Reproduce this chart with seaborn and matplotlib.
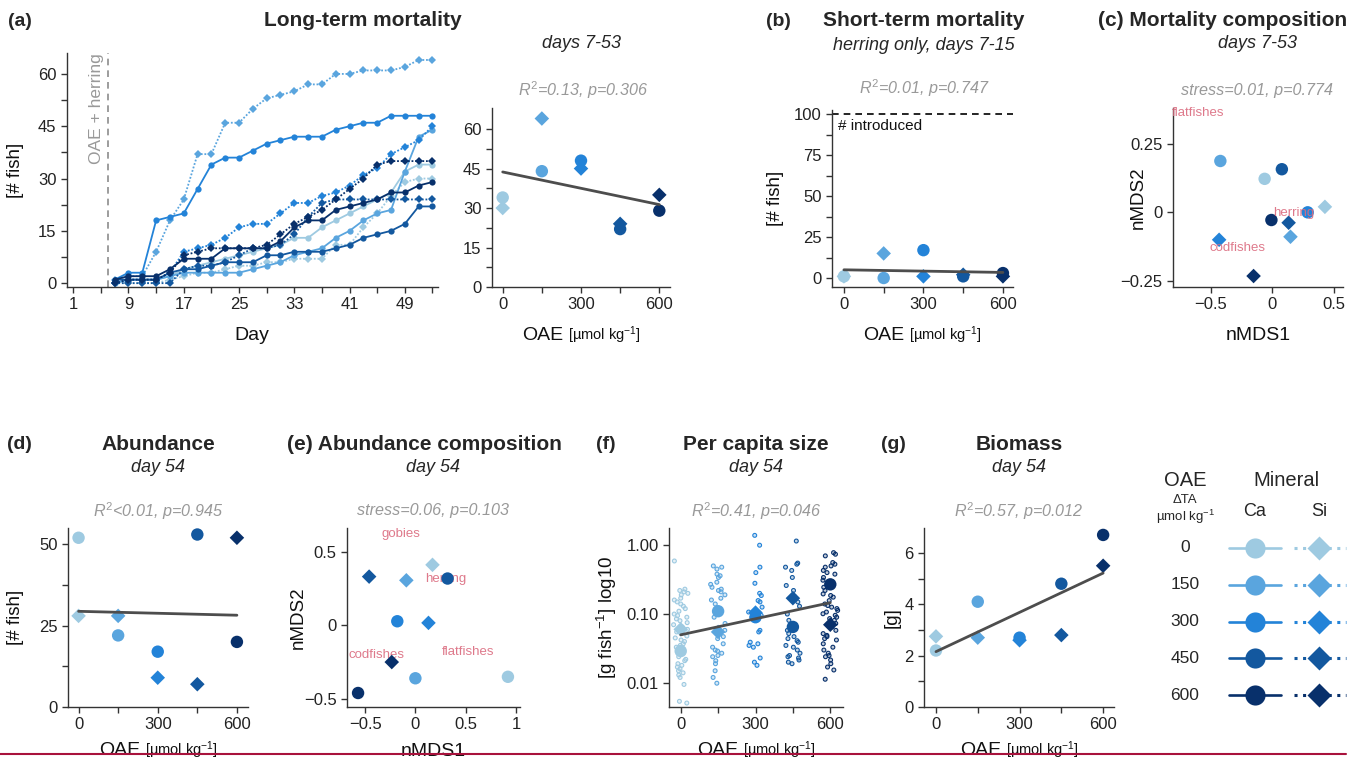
import matplotlib
matplotlib.use("Agg")
import matplotlib.pyplot as plt
from matplotlib.lines import Line2D
import seaborn as sns
import pandas as pd
import numpy as np

W, H = 1365, 760

# treatments
oae = [0, 150, 300, 450, 600]
oae_colors = ["#9ECAE1", "#5AA5DE", "#2383D8", "#13589F", "#08306B"]

# (a) cumulative dead fish per mesocosm
days = [7, 9, 11, 13, 15, 17, 19, 21, 23, 25, 27, 29, 31, 33, 35, 37, 39, 41, 43, 45, 47, 49, 51, 53]
dead_ca_0 = [0, 1, 1, 1, 2, 4, 5, 6, 7, 8, 9, 10, 11, 13, 13, 16, 18, 20, 22, 24, 26, 32, 34, 34]
dead_si_0 = [0, 0, 0, 0, 1, 2, 3, 3, 4, 5, 5, 6, 6, 7, 7, 7, 11, 11, 16, 20, 25, 29, 30, 30]
dead_ca_150 = [0, 1, 1, 1, 2, 3, 3, 3, 3, 3, 4, 5, 6, 8, 9, 10, 13, 15, 18, 20, 21, 32, 42, 44]
dead_si_150 = [1, 2, 2, 9, 18, 24, 37, 37, 46, 46, 50, 53, 54, 55, 57, 57, 60, 60, 61, 61, 61, 62, 64, 64]
dead_ca_300 = [1, 3, 3, 18, 19, 20, 27, 34, 36, 36, 38, 40, 41, 42, 42, 42, 44, 45, 46, 46, 48, 48, 48, 48]
dead_si_300 = [0, 1, 1, 1, 3, 9, 10, 11, 13, 16, 17, 17, 20, 23, 23, 25, 26, 28, 31, 33, 37, 39, 41, 45]
dead_ca_450 = [1, 1, 1, 1, 3, 4, 4, 5, 6, 6, 6, 8, 8, 9, 9, 9, 10, 11, 13, 14, 15, 17, 22, 22]
dead_si_450 = [0, 0, 0, 0, 0, 4, 5, 5, 6, 8, 10, 10, 11, 14, 19, 23, 24, 24, 24, 24, 24, 24, 24, 24]
dead_ca_600 = [1, 2, 2, 2, 4, 7, 7, 7, 10, 10, 10, 10, 12, 16, 18, 18, 21, 22, 23, 24, 26, 26, 28, 29]
dead_si_600 = [0, 1, 1, 1, 3, 8, 9, 10, 10, 10, 10, 11, 14, 17, 19, 21, 24, 27, 30, 34, 35, 35, 35, 35]

# (a) right, total dead days 7-53
long_ca = [34, 44, 48, 22, 29]
long_si = [30, 64, 45, 24, 35]

# (b) dead herring days 7-15
short_ca = [1, 0, 17, 1, 3]
short_si = [1, 15, 1, 2, 1]

# (c) nMDS of mortality composition
mort_ca_x = [-0.06, -0.42, 0.29, 0.08, -0.005]
mort_ca_y = [0.122, 0.187, 0.0, 0.157, -0.028]
mort_si_x = [0.43, 0.15, -0.43, 0.135, -0.15]
mort_si_y = [0.02, -0.089, -0.10, -0.038, -0.232]
mort_taxa = ["flatfishes", "herring", "codfishes"]
mort_taxa_x = [-0.60, 0.175, -0.28]
mort_taxa_y = [0.36, -0.004, -0.13]

# (d) abundance day 54
abund_ca = [52, 22, 17, 53, 20]
abund_si = [28, 28, 9, 7, 52]

# (e) nMDS of abundance composition
abc_ca_x = [0.92, 0.0, -0.18, 0.32, -0.57]
abc_ca_y = [-0.35, -0.36, 0.027, 0.317, -0.46]
abc_si_x = [0.17, -0.09, 0.13, -0.46, -0.235]
abc_si_y = [0.41, 0.305, 0.016, 0.33, -0.25]
abc_taxa = ["gobies", "herring", "codfishes", "flatfishes"]
abc_taxa_x = [-0.14, 0.305, -0.39, 0.52]
abc_taxa_y = [0.62, 0.317, -0.20, -0.18]

# (f) per capita size [g fish-1], means and single fish
size_ca = [0.029, 0.11, 0.09, 0.065, 0.27]
size_si = [0.06, 0.055, 0.105, 0.17, 0.07]
fish_0 = [0.59, 0.23, 0.22, 0.21, 0.20, 0.19, 0.17, 0.16, 0.15, 0.14, 0.13, 0.12, 0.11, 0.10,
          0.095, 0.09, 0.085, 0.08, 0.075, 0.07, 0.065, 0.06, 0.055, 0.052, 0.048, 0.045, 0.042,
          0.04, 0.037, 0.035, 0.033, 0.03, 0.028, 0.026, 0.024, 0.022, 0.021, 0.019, 0.018,
          0.017, 0.016, 0.015, 0.014, 0.013, 0.012, 0.0095, 0.0054, 0.0051]
fish_150 = [0.5, 0.48, 0.45, 0.38, 0.36, 0.34, 0.29, 0.27, 0.245, 0.23, 0.22, 0.21, 0.19, 0.17,
            0.16, 0.14, 0.11, 0.09, 0.073, 0.058, 0.047, 0.044, 0.037, 0.033, 0.03, 0.029,
            0.027, 0.025, 0.024, 0.021, 0.019, 0.015, 0.012, 0.0099]
fish_300 = [1.39, 1.0, 0.48, 0.40, 0.28, 0.20, 0.186, 0.157, 0.15, 0.126, 0.107, 0.096, 0.09,
            0.081, 0.058, 0.055, 0.039, 0.037, 0.035, 0.033, 0.023, 0.02, 0.018]
fish_450 = [1.15, 0.55, 0.53, 0.48, 0.43, 0.34, 0.26, 0.22, 0.18, 0.15, 0.13, 0.10, 0.081, 0.065,
            0.058, 0.052, 0.047, 0.044, 0.041, 0.039, 0.035, 0.033, 0.03, 0.027, 0.025, 0.024,
            0.023, 0.0215, 0.02, 0.019]
fish_600 = [0.78, 0.74, 0.70, 0.56, 0.53, 0.50, 0.48, 0.43, 0.40, 0.38, 0.34, 0.31, 0.27, 0.245,
            0.22, 0.196, 0.186, 0.176, 0.157, 0.14, 0.133, 0.126, 0.12, 0.113, 0.107, 0.101,
            0.096, 0.09, 0.086, 0.081, 0.073, 0.065, 0.058, 0.052, 0.049, 0.047, 0.044, 0.042,
            0.037, 0.033, 0.03, 0.027, 0.025, 0.024, 0.0215, 0.019, 0.017, 0.0154, 0.0113]

# (g) biomass day 54 [g]
biom_ca = [2.2, 4.1, 2.7, 4.8, 6.7]
biom_si = [2.75, 2.7, 2.6, 2.8, 5.5]

# ---------------------------------------------------------------- style
sns.set_theme(style="ticks")
plt.rcParams["font.family"] = ["Liberation Sans", "DejaVu Sans"]
plt.rcParams.update({
    "mathtext.fontset": "custom",
    "mathtext.rm": "Liberation Sans",
    "mathtext.it": "Liberation Sans:italic",
    "mathtext.bf": "Liberation Sans:bold",
    "axes.edgecolor": "#333333",
    "axes.linewidth": 1.0,
    "xtick.color": "#333333",
    "ytick.color": "#333333",
    "xtick.labelcolor": "#222222",
    "ytick.labelcolor": "#222222",
    "xtick.labelsize": 12,
    "ytick.labelsize": 12,
    "xtick.major.size": 4,
    "ytick.major.size": 4,
    "xtick.major.width": 1.0,
    "ytick.major.width": 1.0,
})

pal = {str(o): c for o, c in zip(oae, oae_colors)}
markers = {"Ca": "o", "Si": "D"}
sizes = {"Ca": 80, "Si": 55}
LINE = "#4D4D4D"
GREY = "#999999"
PINK = "#DB6B7F"
TITLE_FS = 15
SUB_FS = 13
STAT_FS = 11.6


def by_oae(ca, si):
    return pd.DataFrame({
        "oae": oae * 2,
        "lab": [str(o) for o in oae] * 2,
        "mineral": ["Ca"] * 5 + ["Si"] * 5,
        "val": list(ca) + list(si),
    })


fig = plt.figure(figsize=(W / 100, H / 100), dpi=100)


def add_ax(l, r, t, b):
    return fig.add_axes([l / W, 1 - b / H, (r - l) / W, (b - t) / H])


def ftext(x, y, s, **kw):
    fig.text(x / W, 1 - y / H, s, **kw)


def points(ax, df, x="oae", y="val", fit=True):
    sns.scatterplot(data=df, x=x, y=y, hue="lab", palette=pal, style="mineral",
                    markers=markers, size="mineral", sizes=sizes, linewidth=0,
                    legend=False, ax=ax, zorder=4)
    if fit:
        sns.regplot(data=df, x=x, y=y, scatter=False, ci=None, color=LINE,
                    line_kws={"lw": 2, "zorder": 6}, ax=ax)


def finish(ax, xlim, ylim, xt, xtl, yt, ytl):
    ax.set_xlim(xlim)
    ax.set_ylim(ylim)
    ax.set_xticks(xt, xtl)
    ax.set_yticks(yt, ytl)
    ax.set_xlabel("")
    ax.set_ylabel("")
    sns.despine(ax=ax)


def ylab(ax, xpx, s):
    pos = ax.get_position()
    ftext(xpx, (1 - (pos.y0 + pos.height / 2)) * H, s, rotation=90, ha="center",
          va="center", fontsize=13.5, color="#111111")


def oae_xlab(cx, yb):
    ftext(cx - 18, yb, "OAE", ha="right", va="baseline", fontsize=14, color="#111111")
    ftext(cx - 13, yb, "[µmol kg$^{-1}$]", ha="left", va="baseline", fontsize=10.5,
          color="#111111")


def header(cx, y0, title, sub, stat, letter=None, lx=None):
    ftext(cx, y0, title, ha="center", va="center", fontsize=TITLE_FS, fontweight="bold")
    if letter:
        ftext(lx, y0, letter, ha="left", va="center", fontsize=14, fontweight="bold")
    ftext(cx, y0 + 24, sub, ha="center", va="center", fontsize=SUB_FS, style="italic")
    ftext(cx, y0 + 67, stat, ha="center", va="center", fontsize=STAT_FS, style="italic",
          color=GREY)


oae_lbl = ["0", "", "300", "", "600"]

# ---------------------------------------------------------------- (a) time series
ts_rows = []
series = {
    ("Ca", 0): dead_ca_0, ("Si", 0): dead_si_0,
    ("Ca", 150): dead_ca_150, ("Si", 150): dead_si_150,
    ("Ca", 300): dead_ca_300, ("Si", 300): dead_si_300,
    ("Ca", 450): dead_ca_450, ("Si", 450): dead_si_450,
    ("Ca", 600): dead_ca_600, ("Si", 600): dead_si_600,
}
for (mineral, o), vals in series.items():
    for d, v in zip(days, vals):
        ts_rows.append({"day": d, "n": v, "lab": str(o), "mineral": mineral})
ts_df = pd.DataFrame(ts_rows)

ax = add_ax(67, 438, 53, 287)
sns.lineplot(data=ts_df, x="day", y="n", hue="lab", palette=pal, style="mineral",
             markers=markers, dashes={"Ca": "", "Si": (1, 1)}, linewidth=1.3,
             markersize=4.5, markeredgewidth=0, errorbar=None, legend=False, ax=ax)
ax.axvline(6, color="#8C8C8C", ls=(0, (4, 3)), lw=1.2, zorder=1)
ax.text(4.4, 66, "OAE + herring", rotation=90, ha="center", va="top", fontsize=12.5,
        color=GREY)
xt = list(range(1, 54, 4))
finish(ax, (0.1, 53.8), (-1.1, 66),
       xt, [str(d) if (d - 1) % 8 == 0 else "" for d in xt],
       np.arange(0, 61, 7.5), ["0", "", "15", "", "30", "", "45", "", "60"])
ylab(ax, 15, "[# fish]")
ftext(252, 340, "Day", ha="center", va="baseline", fontsize=14, color="#111111")

# (a) right
ax = add_ax(492, 670, 108, 287)
points(ax, by_oae(long_ca, long_si))
finish(ax, (-41, 641), (0, 68), oae, oae_lbl,
       np.arange(0, 61, 7.5), ["0", "", "15", "", "30", "", "45", "", "60"])
oae_xlab(581, 340)

ftext(8, 21, "(a)", ha="left", va="center", fontsize=14, fontweight="bold")
ftext(363, 21, "Long-term mortality", ha="center", va="center", fontsize=TITLE_FS,
      fontweight="bold")
ftext(581, 44, "days 7-53", ha="center", va="center", fontsize=SUB_FS, style="italic")
ftext(583, 90, "$R^2$=0.13, p=0.306", ha="center", va="center", fontsize=STAT_FS,
      style="italic", color=GREY)

# ---------------------------------------------------------------- (b)
ax = add_ax(832, 1013, 110, 287)
points(ax, by_oae(short_ca, short_si))
ax.axhline(100, color="black", ls=(0, (4, 3)), lw=1.2, zorder=2)
ax.text(-23, 93, "# introduced", ha="left", va="center", fontsize=11, color="#111111")
finish(ax, (-45, 638), (-5.5, 102.6), oae, oae_lbl,
       np.arange(0, 101, 12.5), ["0", "", "25", "", "50", "", "75", "", "100"])
ylab(ax, 776, "[# fish]")
oae_xlab(922, 340)
header(924, 21, "Short-term mortality", "herring only, days 7-15",
       "$R^2$=0.01, p=0.747", "(b)", 766)

# ---------------------------------------------------------------- (c)
mort_df = pd.DataFrame({
    "x": mort_ca_x + mort_si_x, "y": mort_ca_y + mort_si_y,
    "lab": [str(o) for o in oae] * 2, "mineral": ["Ca"] * 5 + ["Si"] * 5,
})
ax = add_ax(1173, 1343, 108, 287)
points(ax, mort_df, x="x", y="y", fit=False)
for name, tx, ty in zip(mort_taxa, mort_taxa_x, mort_taxa_y):
    ax.text(tx, ty, name, ha="center", va="center", fontsize=9.5, color=PINK,
            alpha=0.9, zorder=5)
finish(ax, (-0.805, 0.577), (-0.272, 0.38), [-0.5, 0, 0.5], ["\u22120.5", "0", "0.5"],
       [-0.25, 0, 0.25], ["\u22120.25", "0", "0.25"])
ylab(ax, 1138, "nMDS2")
ftext(1258, 340, "nMDS1", ha="center", va="baseline", fontsize=14, color="#111111")
ftext(1223, 21, "(c) Mortality composition", ha="center", va="center", fontsize=TITLE_FS,
      fontweight="bold")
ftext(1257, 44, "days 7-53", ha="center", va="center", fontsize=SUB_FS, style="italic")
ftext(1257, 90, "stress=0.01, p=0.774", ha="center", va="center", fontsize=STAT_FS,
      style="italic", color=GREY)

# ---------------------------------------------------------------- (d)
ax = add_ax(68, 248, 528, 707)
points(ax, by_oae(abund_ca, abund_si))
finish(ax, (-40, 642), (0, 55), oae, oae_lbl,
       np.arange(0, 51, 12.5), ["0", "", "25", "", "50"])
ylab(ax, 15, "[# fish]")
oae_xlab(158, 755)
header(158, 444, "Abundance", "day 54", "$R^2$<0.01, p=0.945", "(d)", 7)

# ---------------------------------------------------------------- (e)
abc_df = pd.DataFrame({
    "x": abc_ca_x + abc_si_x, "y": abc_ca_y + abc_si_y,
    "lab": [str(o) for o in oae] * 2, "mineral": ["Ca"] * 5 + ["Si"] * 5,
})
ax = add_ax(347, 520, 528, 707)
for name, tx, ty in zip(abc_taxa, abc_taxa_x, abc_taxa_y):
    ax.text(tx, ty, name, ha="center", va="center", fontsize=9.5, color=PINK,
            alpha=0.9, zorder=3)
points(ax, abc_df, x="x", y="y", fit=False)
finish(ax, (-0.68, 1.04), (-0.555, 0.66), [-0.5, 0, 0.5, 1],
       ["\u22120.5", "0", "0.5", "1"], [-0.5, 0, 0.5], ["\u22120.5", "0", "0.5"])
ylab(ax, 298, "nMDS2")
ftext(433, 756, "nMDS1", ha="center", va="baseline", fontsize=14, color="#111111")
ftext(424, 444, "(e) Abundance composition", ha="center", va="center", fontsize=TITLE_FS,
      fontweight="bold")
ftext(433, 468, "day 54", ha="center", va="center", fontsize=SUB_FS, style="italic")
ftext(433, 511, "stress=0.06, p=0.103", ha="center", va="center", fontsize=STAT_FS,
      style="italic", color=GREY)

# ---------------------------------------------------------------- (f)
fish_lists = [fish_0, fish_150, fish_300, fish_450, fish_600]
fish_df = pd.DataFrame({
    "oae": [o for o, fl in zip(oae, fish_lists) for _ in fl],
    "lab": [str(o) for o, fl in zip(oae, fish_lists) for _ in fl],
    "logw": np.log10([w for fl in fish_lists for w in fl]),
})
ax = add_ax(669, 843, 528, 707)
np.random.seed(7)
n0 = len(ax.collections)
sns.stripplot(data=fish_df, x="oae", y="logw", hue="lab", palette=pal, native_scale=True,
              jitter=0.2, size=2.8, linewidth=0.8, legend=False, ax=ax, zorder=2)
for coll in ax.collections[n0:]:
    fc = coll.get_facecolor()
    coll.set_edgecolor(fc)
    fc2 = fc.copy()
    fc2[:, 3] = 0.25
    coll.set_facecolor(fc2)
size_df = by_oae(np.log10(size_ca), np.log10(size_si))
points(ax, size_df)
finish(ax, (-47, 651), (-2.35, 0.25), oae, oae_lbl, [-2, -1, 0], ["0.01", "0.10", "1.00"])
ylab(ax, 607, "[g fish$^{-1}$] log10")
oae_xlab(756, 755)
header(756, 444, "Per capita size", "day 54", "$R^2$=0.41, p=0.046", "(f)", 596)

# ---------------------------------------------------------------- (g)
ax = add_ax(924, 1114, 528, 707)
points(ax, by_oae(biom_ca, biom_si))
finish(ax, (-43, 639), (0, 6.97), oae, oae_lbl, range(0, 7), ["0", "", "2", "", "4", "", "6"])
ylab(ax, 892, "[g]")
oae_xlab(1019, 755)
header(1019, 444, "Biomass", "day 54", "$R^2$=0.57, p=0.012", "(g)", 881)

# ---------------------------------------------------------------- legend
lg = add_ax(1150, 1365, 455, 715)
lg.set_xlim(1150, 1365)
lg.set_ylim(715, 455)
lg.axis("off")
lg.text(1185, 480, "OAE", ha="center", va="center", fontsize=14.5)
lg.text(1185, 500, "ΔTA", ha="center", va="center", fontsize=9.5)
lg.text(1185, 517, "µmol kg$^{-1}$", ha="center", va="center", fontsize=9.5)
lg.text(1286, 480, "Mineral", ha="center", va="center", fontsize=14.5)
lg.text(1255, 511, "Ca", ha="center", va="center", fontsize=13)
lg.text(1319, 511, "Si", ha="center", va="center", fontsize=13)
for i, (o, c) in enumerate(zip(oae, oae_colors)):
    yy = 548 + i * 36.8
    lg.text(1185, yy, str(o), ha="center", va="center", fontsize=12.5)
    lg.add_line(Line2D([1229, 1281], [yy, yy], color=c, lw=1.9))
    lg.add_line(Line2D([1255], [yy], marker="o", ms=14.5, color=c, mec="none"))
    lg.add_line(Line2D([1294, 1346], [yy, yy], color=c, lw=2.2, ls=(0, (1, 1.8))))
    lg.add_line(Line2D([1319], [yy], marker="D", ms=12.5, color=c, mec="none"))

# page border line at the bottom
fig.add_artist(Line2D([0, 1346 / W], [1 - 754 / H, 1 - 754 / H], color="#A8123C",
                      lw=1.5, zorder=20))

fig.savefig("out.png", dpi=100)
